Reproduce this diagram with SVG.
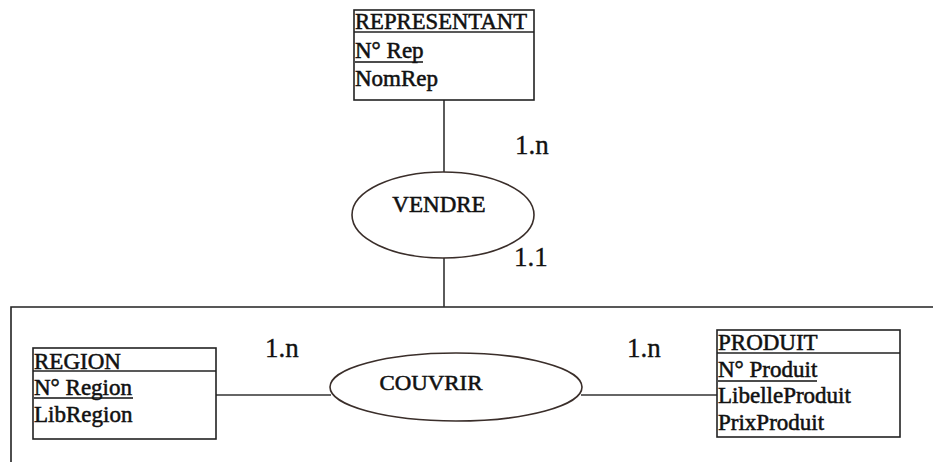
<svg xmlns="http://www.w3.org/2000/svg" width="933" height="462" viewBox="0 0 933 462">
  <style>
    .frame { fill: none; stroke: #222; stroke-width: 1.6; }
    .ent { fill: #fff; stroke: #222; stroke-width: 1.6; }
    .rel { fill: #fff; stroke: #3a2e2a; stroke-width: 1.6; }
    .link { stroke: #333; stroke-width: 1.6; fill: none; }
    .ul { stroke: #111; stroke-width: 1.4; }
    text { font-family: "Liberation Serif", "Times New Roman", serif; fill: #111; stroke: #111; stroke-width: 0.55; }
    .attr { font-size: 23px; }
    .rname { font-size: 22px; }
    .card { font-size: 27px; stroke-width: 0.35; }
  </style>
  <rect width="933" height="462" fill="#fff"/>

  <!-- Surrounding frame (open to the right and bottom) -->
  <path class="frame" d="M933,307 H11 V462"/>

  <!-- Connectors -->
  <g id="connectors">
    <line class="link" x1="444" y1="100" x2="444" y2="172"/>
    <line class="link" x1="444" y1="258" x2="444" y2="307"/>
    <line class="link" x1="216" y1="395" x2="331" y2="395"/>
    <line class="link" x1="581" y1="395" x2="717" y2="395"/>
  </g>

  <!-- Entity REPRESENTANT -->
  <g id="representant">
    <rect class="ent" x="354" y="10" width="180" height="90"/>
    <line class="ent" x1="354" y1="32" x2="534" y2="32"/>
    <text class="attr" x="355" y="29" textLength="172" lengthAdjust="spacingAndGlyphs">REPRESENTANT</text>
    <text class="attr" x="355" y="58">N° Rep</text>
    <line class="ul" x1="355" y1="62" x2="423" y2="62"/>
    <text class="attr" x="355" y="86">NomRep</text>
  </g>

  <!-- Relation VENDRE -->
  <g id="vendre">
    <ellipse class="rel" cx="443" cy="215" rx="91" ry="43"/>
    <text class="attr" x="439" y="212" text-anchor="middle">VENDRE</text>
  </g>

  <!-- Entity REGION -->
  <g id="region">
    <rect class="ent" x="33" y="348" width="183" height="91"/>
    <line class="ent" x1="33" y1="371" x2="216" y2="371"/>
    <text class="attr" x="34" y="369">REGION</text>
    <text class="attr" x="34" y="395">N° Region</text>
    <line class="ul" x1="34" y1="398" x2="133" y2="398"/>
    <text class="attr" x="34" y="422">LibRegion</text>
  </g>

  <!-- Relation COUVRIR -->
  <g id="couvrir">
    <ellipse class="rel" cx="456" cy="387" rx="126" ry="34"/>
    <text class="rname" x="431" y="390" text-anchor="middle" textLength="103" lengthAdjust="spacingAndGlyphs">COUVRIR</text>
  </g>

  <!-- Entity PRODUIT -->
  <g id="produit">
    <rect class="ent" x="717" y="330" width="183" height="107"/>
    <line class="ent" x1="717" y1="353" x2="900" y2="353"/>
    <text class="attr" x="718" y="350">PRODUIT</text>
    <text class="attr" x="718" y="377">N° Produit</text>
    <line class="ul" x1="718" y1="381" x2="817" y2="381"/>
    <text class="attr" x="718" y="403">LibelleProduit</text>
    <text class="attr" x="718" y="430">PrixProduit</text>
  </g>

  <!-- Cardinalities -->
  <g id="cardinalities">
    <text class="card" x="515" y="154">1.n</text>
    <text class="card" x="514" y="266">1.1</text>
    <text class="card" x="265" y="357">1.n</text>
    <text class="card" x="627" y="357">1.n</text>
  </g>
</svg>
